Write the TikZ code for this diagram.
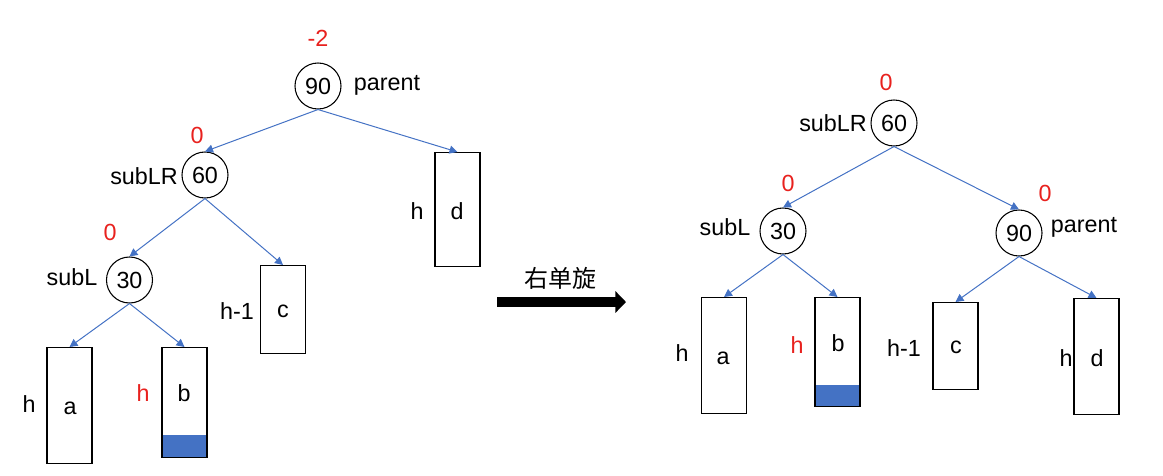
\documentclass[tikz,border=0pt]{standalone}
\usepackage{xcolor}
\usepackage{fontspec}
\setmainfont{Liberation Sans}
\newfontfamily\cjk{Noto Sans CJK SC}
\usepackage{tikz}
\usetikzlibrary{arrows.meta}
\definecolor{edgeblue}{HTML}{4472C4}
\definecolor{balred}{HTML}{E8211E}
\tikzset{
  every node/.style={font=\fontsize{17.5}{19}\selectfont, inner sep=0pt},
  key/.style={circle, draw, line width=0.8pt, minimum size=34.5pt},
  subtree/.style={draw, line width=0.8pt, minimum width=33.75pt, anchor=north},
  bal/.style={text=balred},
  edge/.style={edgeblue, line width=0.75pt, -{Triangle[length=6pt,width=6pt]}},
  rot/.style={line width=7.5pt, -{Triangle[length=8pt,width=16pt]}}
}

\begin{document}
\begin{tikzpicture}[x=0.75pt, y=-0.75pt]
                \useasboundingbox (0,0) rectangle (1163,475);
                \node[key] (l90) at (318,86) {90};
                \node[key] (l60) at (205,175) {60};
                \node[key] (l30) at (129.5,280) {30};
                \node[bal] (lb90) at (318,38) {-2};
                \node[bal] (lb60) at (197,135) {0};
                \node[bal] (lb30) at (110,232) {0};
                \node (lparent) at (387,85) {parent};
                \node (lsubLR) at (144,176) {subLR};
                \node (lsubL) at (72,277) {subL};
                \fill[edgeblue] (162,435) rectangle (207,457);
                \node[subtree, minimum height=85.5pt] (ld) at (457.5,152) {};
                \node[subtree, minimum height=66pt] (lc) at (283,265) {};
                \node[subtree, minimum height=87pt] (la) at (69.5,347) {};
                \node[subtree, minimum height=82.5pt] (lbx) at (184.5,347) {};
                \node (ldt) at (457,211) {d};
                \node (lct) at (283,311) {c};
                \node (lat) at (70,408) {a};
                \node (lbt) at (184,393) {b};
                \node (ldh) at (417,211) {h};
                \node (lch) at (237,311) {h-1};
                \node (lah) at (29,404) {h};
                \node[bal] (lbh) at (143,393) {h};
                \draw[edge] (l90.south) -- (l60.north);
                \draw[edge] (l90.south) -- (ld.north);
                \draw[edge] (l60.south) -- (l30.north);
                \draw[edge] (l60.south) -- (lc.north);
                \draw[edge] (l30.south) -- (la.north);
                \draw[edge] (l30.south) -- (lbx.north);

                \coordinate (rotfrom) at (497,302);
                \coordinate (rotto) at (626,302);
                \draw[rot] (rotfrom) -- (rotto);
                \node[font=\cjk\fontsize{18}{20}\selectfont] (rottext) at (560,278) {右单旋};

                \node[key] (r60) at (894,123) {60};
                \node[key] (r30) at (783,231) {30};
                \node[key] (r90) at (1019,233) {90};
                \node[bal] (rb60) at (886,82) {0};
                \node[bal] (rb30) at (788,183) {0};
                \node[bal] (rb90) at (1045,193) {0};
                \node (rsubLR) at (833,123) {subLR};
                \node (rsubL) at (725,227) {subL};
                \node (rparent) at (1084,227) {parent};
                \fill[edgeblue] (815,385) rectangle (860,406);
                \node[subtree, minimum height=87pt] (ra) at (724,297) {};
                \node[subtree, minimum height=81.75pt] (rbx) at (837.5,297) {};
                \node[subtree, minimum height=65.25pt] (rc) at (955.5,302) {};
                \node[subtree, minimum height=87pt] (rd) at (1096.5,298) {};
                \node (rat) at (723,358) {a};
                \node (rbt) at (838,343) {b};
                \node (rct) at (956,347) {c};
                \node (rdt) at (1097,358) {d};
                \node (rah) at (682,353) {h};
                \node[bal] (rbh) at (797,345) {h};
                \node (rch) at (904,348) {h-1};
                \node (rdh) at (1066,358) {h};
                \draw[edge] (r60.south) -- (r30.north);
                \draw[edge] (r60.south) -- (r90.north);
                \draw[edge] (r30.south) -- (ra.north);
                \draw[edge] (r30.south) -- (rbx.north);
                \draw[edge] (r90.south) -- (rc.north);
                \draw[edge] (r90.south) -- (rd.north);
            \end{tikzpicture}
\end{document}
